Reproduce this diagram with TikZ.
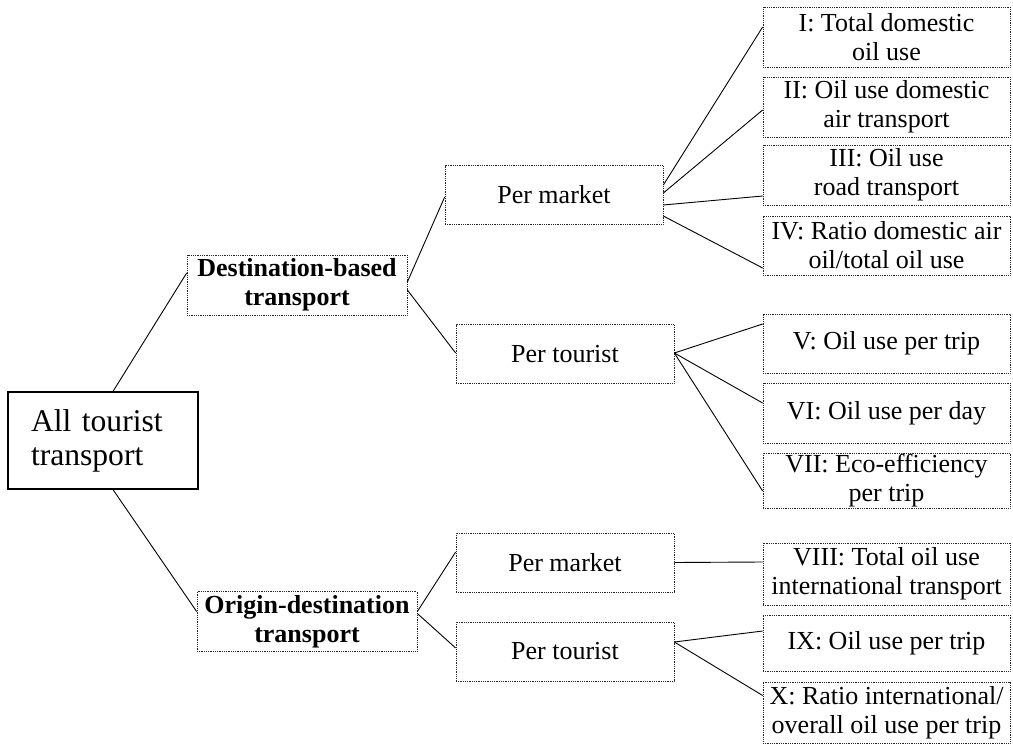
\documentclass[tikz,border=0pt]{standalone}
\usepackage{fontspec}
\setmainfont{Liberation Serif}
\usetikzlibrary{calc}
\tikzset{
  dbox/.style={draw=black!85, line width=0.7pt, dash pattern=on 0.9pt off 0.9pt,
    inner sep=0pt, align=center, font=\fontsize{26}{29}\selectfont},
  midbox/.style={dbox, minimum width=218pt, minimum height=59pt},
  catbox/.style={dbox, minimum width=220pt, minimum height=60pt,
    font=\fontsize{26}{29}\selectfont\bfseries},
  leafbox/.style={dbox, minimum width=247pt, minimum height=60pt},
  rootbox/.style={draw=black, line width=1.2pt, align=left, text width=144pt,
    inner xsep=23pt, inner ysep=0pt, minimum height=97pt,
    font=\fontsize{31.6}{34}\selectfont},
  link/.style={draw=black, line width=0.9pt}
}
\begin{document}
\begin{tikzpicture}[x=1pt,y=-1pt]
\useasboundingbox (0,0) rectangle (1013,744);

\node[rootbox] (all) at (103,440.5) {All tourist\\transport};

\node[catbox] (dest) at (297,285) {Destination-based\\transport};
\node[catbox] (od) at (307,621.5) {Origin-destination\\transport};

\node[midbox] (pm1) at (554,195) {Per market};
\node[midbox] (pt1) at (565,354) {Per tourist};
\node[midbox] (pm2) at (565,562.5) {Per market};
\node[midbox] (pt2) at (565,651.5) {Per tourist};

\node[leafbox] (i1) at (886.5,37) {I: Total domestic\\oil use};
\node[leafbox] (i2) at (886.5,107) {II: Oil use domestic\\air transport};
\node[leafbox] (i3) at (886.5,175) {III: Oil use\\road transport};
\node[leafbox, minimum height=59pt] (i4) at (886.5,245.5) {IV: Ratio domestic air\\oil/total oil use};
\node[leafbox, minimum height=59pt] (i5) at (886.5,343.5) {V: Oil use per trip};
\node[leafbox] (i6) at (886.5,413) {VI: Oil use per day};
\node[leafbox, minimum height=55pt] (i7) at (886.5,480.5) {VII: Eco-efficiency\\per trip};
\node[leafbox, minimum height=62pt] (i8) at (886.5,574) {VIII: Total oil use\\international transport};
\node[leafbox, minimum height=56pt] (i9) at (886.5,643) {IX: Oil use per trip};
\node[leafbox, minimum height=61pt] (i10) at (886.5,712.5) {X: Ratio international/\\overall oil use per trip};

\draw[link] ($(all.north)+(10,0)$) -- ($(dest.west)+(0,-12)$);
\draw[link] ($(all.south)+(10,0)$) -- ($(od.west)+(0,-10)$);

\draw[link] ($(dest.east)+(0,-3)$) -- ($(pm1.west)+(0,2)$);
\draw[link] ($(dest.east)+(0,5)$) -- ($(pt1.west)+(0,-1)$);

\draw[link] ($(pm1.east)+(0,-10)$) -- ($(i1.west)+(0,-10)$);
\draw[link] ($(pm1.east)+(0,-2)$) -- ($(i2.west)+(0,3)$);
\draw[link] ($(pm1.east)+(0,10)$) -- ($(i3.west)+(0,21)$);
\draw[link] ($(pm1.east)+(0,21)$) -- ($(i4.west)+(0,22.5)$);

\draw[link] ($(pt1.east)+(0,-1)$) -- ($(i5.west)+(0,-19.5)$);
\draw[link] ($(pt1.east)+(0,-1)$) -- ($(i6.west)+(0,-10)$);
\draw[link] ($(pt1.east)+(0,-1)$) -- ($(i7.west)+(0,10.5)$);

\draw[link] ($(od.east)+(0,-10)$) -- ($(pm2.west)+(0,-10.5)$);
\draw[link] ($(od.east)+(0,-8)$) -- ($(pt2.west)+(0,-3.5)$);

\draw[link] (pm2.east) -- ($(i8.west)+(0,-12)$);
\draw[link] ($(pt2.east)+(0,-9.5)$) -- ($(i9.west)+(0,-12)$);
\draw[link] ($(pt2.east)+(0,-9.5)$) -- ($(i10.west)+(0,-17)$);
\end{tikzpicture}
\end{document}
